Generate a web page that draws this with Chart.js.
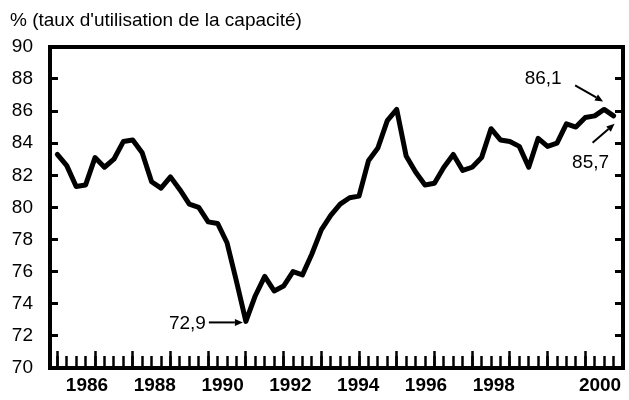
<!DOCTYPE html>
<html><head><meta charset="utf-8">
<script src="https://cdn.jsdelivr.net/npm/chart.js@4/dist/chart.umd.min.js"></script>
<style>html,body{margin:0;padding:0;background:#fff}#wrap{width:629px;height:400px}</style>
</head><body><div id="wrap"><canvas id="c" width="629" height="400"></canvas></div>
<script>
// ---- data ----
const years = [1986,1987,1988,1989,1990,1991,1992,1993,1994,1995,1996,1997,1998,1999,2000];
const quarters = [];
years.forEach(y => { for (let q = 1; q <= 4; q++) quarters.push(y + 'T' + q); });
const capacity = [
  83.3, 82.6, 81.3, 81.4,
  83.1, 82.5, 83.0, 84.1,
  84.2, 83.4, 81.6, 81.2,
  81.9, 81.1, 80.2, 80.0,
  79.1, 79.0, 77.8, 75.4,
  72.9, 74.5, 75.7, 74.8,
  75.1, 76.0, 75.8, 77.1,
  78.6, 79.5, 80.2, 80.6,
  80.7, 82.9, 83.7, 85.4,
  86.1, 83.2, 82.2, 81.4,
  81.5, 82.5, 83.3, 82.3,
  82.5, 83.1, 84.9, 84.2,
  84.1, 83.8, 82.5, 84.3,
  83.8, 84.0, 85.2, 85.0,
  85.6, 85.7, 86.1, 85.7
];
const yTicks = [70,72,74,76,78,80,82,84,86,88,90];
const yearLabels = ['1986','1988','1990','1992','1994','1996','1998','2000'];
const titleText = "% (taux d'utilisation de la capacité)";
const notedPoints = [20, 58, 59]; // indices of annotated values

// quarter string -> decimal time
const qTime = s => parseInt(s.slice(0,4), 10) + (parseInt(s.slice(5), 10) - 1) / 4;
const times = quarters.map(qTime);

// label axis placement (as in the original figure)
const labelAxisMin = 1984.9086, labelAxisMax = 2001.811;
const labelAxisAt = [1986,1988,1990,1992,1994,1996,1998,2001.133];

const FONT = "'Liberation Sans', Arial, sans-serif";
Chart.defaults.color = '#000';
Chart.defaults.font.family = FONT;

const annot = {
  id: 'annot',
  afterDatasetsDraw(chart) {
    const ctx = chart.ctx, xs = chart.scales.x, ys = chart.scales.y;
    const fmt = v => v.toFixed(1).replace('.', ',');
    function arrow(x1, y1, x2, y2) {
      const a = Math.atan2(y2 - y1, x2 - x1), L = 8, W = 3.5;
      ctx.beginPath(); ctx.moveTo(x1, y1);
      ctx.lineTo(x2 - L * Math.cos(a), y2 - L * Math.sin(a)); ctx.stroke();
      ctx.beginPath(); ctx.moveTo(x2, y2);
      ctx.lineTo(x2 - L * Math.cos(a) + W * Math.sin(a), y2 - L * Math.sin(a) - W * Math.cos(a));
      ctx.lineTo(x2 - L * Math.cos(a) - W * Math.sin(a), y2 - L * Math.sin(a) + W * Math.cos(a));
      ctx.closePath(); ctx.fill();
    }
    ctx.save();
    ctx.strokeStyle = '#000'; ctx.fillStyle = '#000'; ctx.lineWidth = 2;
    ctx.font = '19px ' + FONT; ctx.textBaseline = 'middle';
    const p = notedPoints.map(i => ({x: xs.getPixelForValue(times[i]), y: ys.getPixelForValue(capacity[i]), v: capacity[i]}));
    // trough
    ctx.textAlign = 'right';
    ctx.fillText(fmt(p[0].v), p[0].x - 40, p[0].y + 2);
    arrow(p[0].x - 37, p[0].y + 1, p[0].x - 3, p[0].y + 1);
    // recent peak
    ctx.textAlign = 'center';
    ctx.fillText(fmt(p[1].v), p[1].x - 61, p[1].y - 31);
    arrow(p[1].x - 29, p[1].y - 24, p[1].x - 1, p[1].y - 8);
    // last value
    ctx.fillText(fmt(p[2].v), p[2].x - 23, p[2].y + 47);
    arrow(p[2].x - 21, p[2].y + 27, p[2].x + 1, p[2].y + 8);
    ctx.restore();
  }
};

new Chart(document.getElementById('c'), {
  type: 'line',
  data: {
    datasets: [{
      data: capacity.map((v, i) => ({x: times[i], y: v})),
      borderColor: '#000', borderWidth: 5, pointRadius: 0, tension: 0,
      borderJoinStyle: 'round', borderCapStyle: 'round',
      xAxisID: 'x', yAxisID: 'y'
    }]
  },
  options: {
    responsive: false, animation: false, devicePixelRatio: 1,
    layout: {padding: {left: 10, right: 0, top: 0, bottom: 0}},
    plugins: {
      legend: {display: false}, tooltip: {enabled: false},
      title: {display: true, text: titleText, align: 'start', color: '#000',
              font: {size: 19, weight: 'normal', family: FONT}, padding: {top: 9, bottom: 15}}
    },
    scales: {
      x: {
        type: 'linear', position: 'bottom', min: 1985.806, max: 2001.0,
        afterBuildTicks: s => { s.ticks = times.map(v => ({value: v})); },
        afterFit: s => { s.height = 0; },
        ticks: {display: false},
        grid: {drawOnChartArea: false, drawTicks: true, tickLength: -12, tickWidth: 2.5, tickColor: '#000'},
        border: {display: true, width: 4, color: '#000'}
      },
      xMaj: {
        type: 'linear', position: {y: 70}, min: 1985.806, max: 2001.0,
        afterBuildTicks: s => { s.ticks = years.map(v => ({value: v})); },
        ticks: {display: false},
        grid: {drawOnChartArea: false, drawTicks: true, tickLength: -17, tickWidth: 2.5, tickColor: '#000'},
        border: {display: false}
      },
      xLab: {
        type: 'linear', position: 'bottom', weight: 1, min: labelAxisMin, max: labelAxisMax,
        afterBuildTicks: s => { s.ticks = labelAxisAt.map(v => ({value: v})); },
        afterFit: s => { s.height = 32; },
        ticks: {autoSkip: false, maxRotation: 0, padding: 6, color: '#000',
                font: {size: 19, weight: 'bold', family: FONT},
                callback: (v, i) => yearLabels[i]},
        grid: {display: false, drawTicks: false},
        border: {display: false}
      },
      xTop: {
        type: 'linear', position: 'top', min: 0, max: 1,
        afterFit: s => { s.height = 0; },
        ticks: {display: false},
        grid: {drawOnChartArea: false, drawTicks: false},
        border: {display: true, width: 4, color: '#000'}
      },
      y: {
        type: 'linear', position: 'left', min: 70, max: 90,
        afterBuildTicks: s => { s.ticks = yTicks.map(v => ({value: v})); },
        afterFit: s => { s.width = 40; s.paddingTop = 10; s.paddingBottom = 10; },
        ticks: {padding: 25, color: '#000', font: {size: 19, family: FONT}},
        grid: {drawOnChartArea: false, drawTicks: true, tickLength: -8, tickWidth: 3, tickColor: '#000'},
        border: {display: true, width: 4, color: '#000'}
      },
      y2: {
        type: 'linear', position: 'right', min: 70, max: 90,
        afterBuildTicks: s => { s.ticks = yTicks.map(v => ({value: v})); },
        afterFit: s => { s.width = 6; s.paddingTop = 0; s.paddingBottom = 0; },
        ticks: {display: false},
        grid: {drawOnChartArea: false, drawTicks: true, tickLength: -8, tickWidth: 3, tickColor: '#000'},
        border: {display: true, width: 4, color: '#000'}
      }
    }
  },
  plugins: [annot]
});
</script>
</body></html>
